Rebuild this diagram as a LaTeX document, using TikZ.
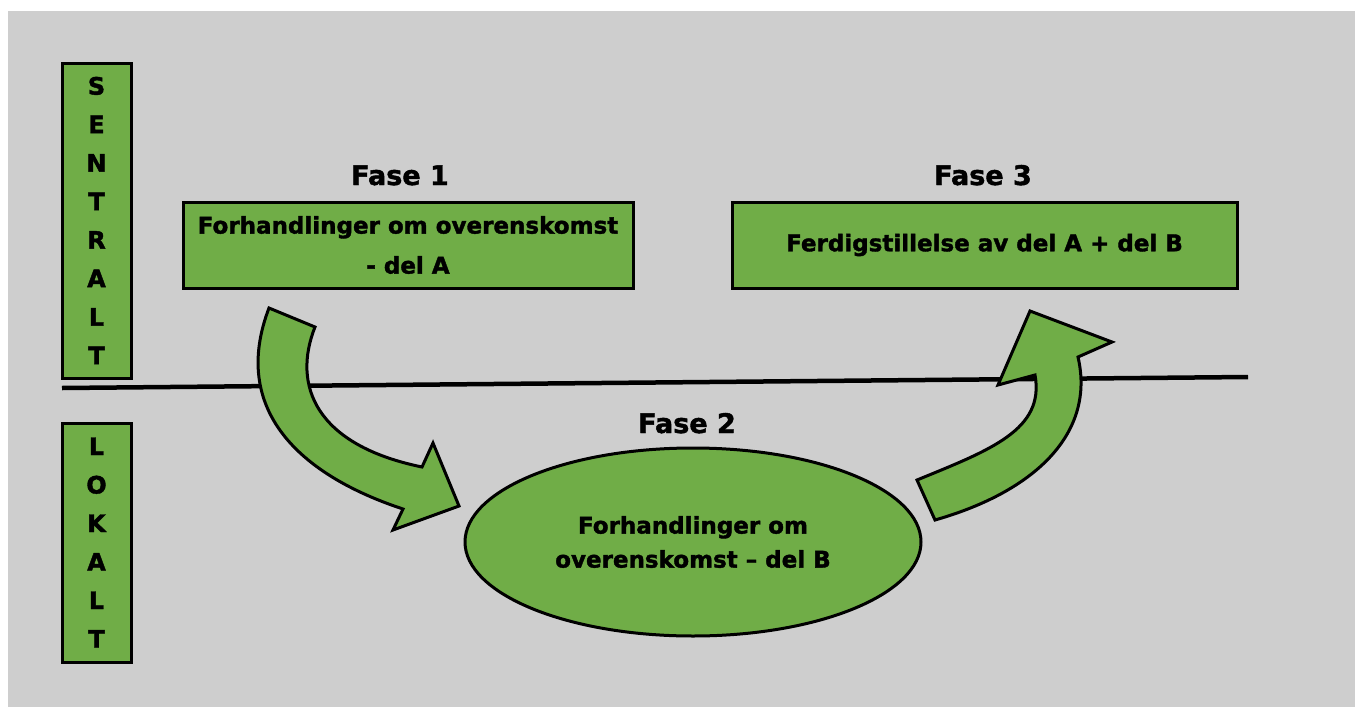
\documentclass[tikz,border=0pt]{standalone}
\usepackage{fontspec}
\setmainfont{DejaVu Sans}[BoldFeatures={FakeBold=1.6}]
\usetikzlibrary{shapes.geometric}
\definecolor{bggray}{RGB}{206,206,206}
\definecolor{fgreen}{RGB}{112,173,71}
\begin{document}
\begin{tikzpicture}[x=1pt,y=-1pt,
  greenbox/.style={draw=black, line width=3pt, fill=fgreen, inner sep=0pt, align=center, font=\fontsize{23}{40}\selectfont\bfseries},
  sidebox/.style={draw=black, line width=3pt, fill=fgreen, minimum width=69pt, inner sep=0pt, align=center, font=\fontsize{24}{38.5}\selectfont\bfseries},
  phase/.style={font=\fontsize{27}{30}\selectfont\bfseries, anchor=base},
  bigarrow/.style={draw=black, line width=3pt, fill=fgreen, line join=miter}]
\useasboundingbox (0,0) rectangle (1360,707);
\fill[white] (0,0) rectangle (1360,707);
\fill[bggray] (8,11) rectangle (1355,707);

% divider line
\coordinate (lineL) at (62,388);
\coordinate (lineR) at (1248,377);
\draw[line width=4.5pt] (lineL) -- (lineR);

% side labels
\node[sidebox, minimum height=315pt] (sentralt) at (96.5,220.5) {S\\E\\N\\T\\R\\A\\L\\T};
\node[sidebox, minimum height=239pt] (lokalt) at (96.5,542.5) {L\\O\\K\\A\\L\\T};

% phases
\node[phase] (f1) at (400,185) {Fase 1};
\node[greenbox, minimum width=450pt, minimum height=86pt] (boxA) at (408,245) {Forhandlinger om overenskomst\\- del A};

\node[phase] (f3) at (983,185) {Fase 3};
\node[greenbox, minimum width=505pt, minimum height=86pt] (boxC) at (984.5,245) {Ferdigstillelse av del A + del B};

\node[phase] (f2) at (687,433) {Fase 2};
\node[ellipse, draw=black, line width=3pt, fill=fgreen, inner sep=0pt, minimum width=456pt, minimum height=188pt, align=center, font=\fontsize{23}{34}\selectfont\bfseries] (ellB) at (693,542) {Forhandlinger om\\overenskomst -- del B};

% curved block arrows
\draw[bigarrow] (269,308) -- (315,327)
  .. controls (292,385) and (315,445) .. (422,467)
  -- (433,443) -- (459,506) -- (393,530) -- (403,509)
  .. controls (300,475) and (230,410) .. (269,308) -- cycle;

\draw[bigarrow] (917,480)
  .. controls (990,450) and (1045,430) .. (1035,375)
  -- (998,385) -- (1030,311) -- (1112,342) -- (1078,357)
  .. controls (1095,430) and (1040,490) .. (935,520) -- cycle;
\end{tikzpicture}
\end{document}
